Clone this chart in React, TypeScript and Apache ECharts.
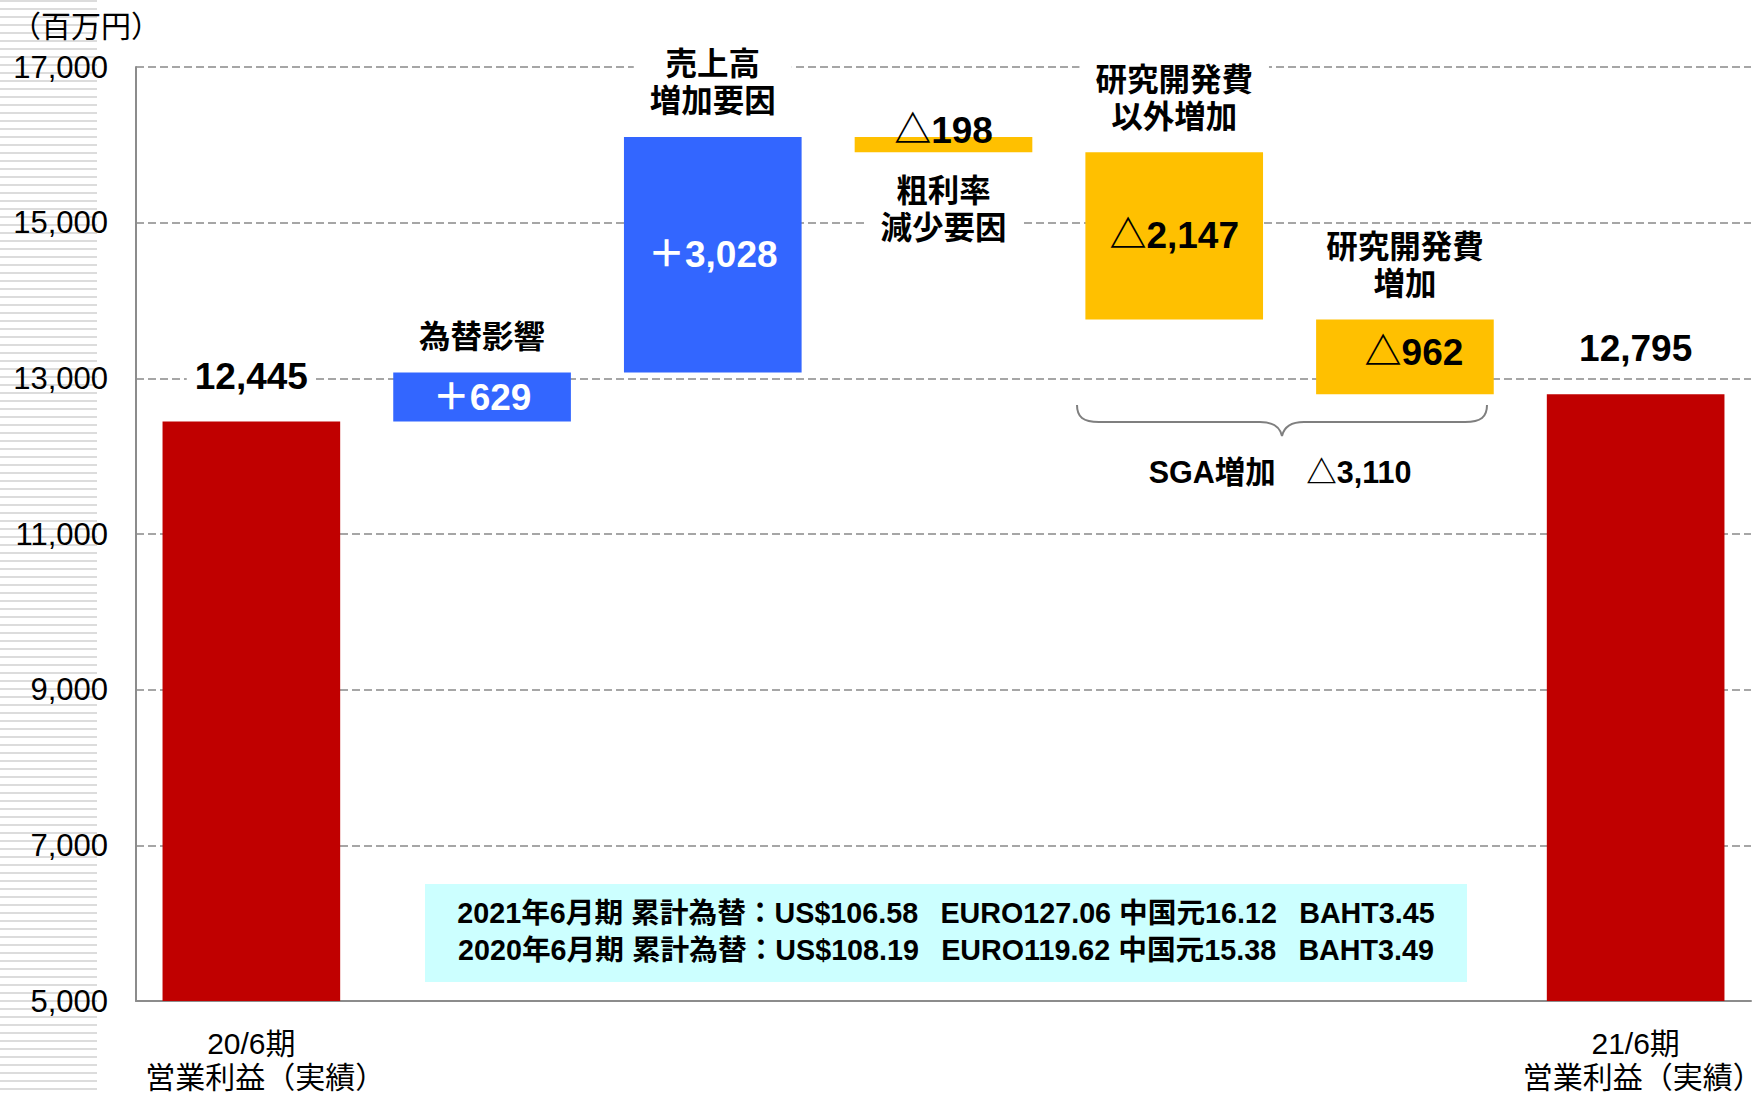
import React, { useEffect, useRef } from "react";
import * as echarts from "echarts";

// ---- data ----
const categories = [
  "20/6期 営業利益（実績）",
  "為替影響",
  "売上高増加要因",
  "粗利率減少要因",
  "研究開発費以外増加",
  "研究開発費増加",
  "21/6期 営業利益（実績）",
];
const axisLabelTop = ["20/6期", "", "", "", "", "", "21/6期"];
const axisLabelBottom = ["営業利益（実績）", "", "", "", "", "", "営業利益（実績）"];
const startValue = 12445;
const deltas = [629, 3028, -198, -2147, -962];
const endValue = 12795;
const notesAbove = ["", "為替影響", "売上高\n増加要因", "", "研究開発費\n以外増加", "研究開発費\n増加", ""];
const notesBelow = ["", "", "", "粗利率\n減少要因", "", "", ""];
const yMin = 5000;
const yMax = 17000;
const yInterval = 2000;
const sgaLabel = "SGA増加";
const sgaTotal = 3110;
const fxLines = [
  "2021年6月期 累計為替：US$106.58\u2002 EURO127.06 中国元16.12\u2002 BAHT3.45",
  "2020年6月期 累計為替：US$108.19\u2002 EURO119.62 中国元15.38\u2002 BAHT3.49",
];
const unitLabel = "（百万円）";

// ---- styles ----
const RED = "#C00000";
const BLUE = "#3366FF";
const YELLOW = "#FFC000";
const LATIN = '"Liberation Sans", Arial, "Noto Sans CJK JP", sans-serif';
const CJK = '"Noto Sans CJK JP", "Liberation Sans", sans-serif';

const fmt = (v: number) => Math.abs(v).toLocaleString("en-US");

export default function App() {
  const ref = useRef<HTMLDivElement>(null);

  useEffect(() => {
    if (!ref.current) return;
    const chart = echarts.init(ref.current, undefined, { renderer: "svg" });

    const bracePath =
      "M0,0 C0,12 6,17 22,17 L183,17 C197,17 203,22 205,31 C207,22 213,17 227,17 L388,17 C404,17 410,12 410,0";
    echarts.graphic.registerShape("brace", echarts.graphic.extendPath(bracePath, {}) as any);

    const levels: number[] = [startValue];
    deltas.forEach((d) => levels.push(levels[levels.length - 1] + d));
    const base = [0, ...deltas.map((d, i) => Math.min(levels[i], levels[i + 1])), 0];
    const visible = [startValue, ...deltas.map((d) => Math.abs(d)), endValue];
    const texts = [fmt(startValue), ...deltas.map((d) => (d > 0 ? "＋" : "△") + fmt(d)), fmt(endValue)];

    const valueFont = { fontFamily: LATIN, fontSize: 37, fontWeight: "bold" as const };

    const visibleData = visible.map((v, i) => {
      const isTotal = i === 0 || i === visible.length - 1;
      const d = isTotal ? 0 : deltas[i - 1];
      const color = isTotal ? RED : d > 0 ? BLUE : YELLOW;
      let label: any;
      if (isTotal) {
        label = {
          show: true,
          position: "top",
          distance: 25,
          color: "#000",
          backgroundColor: "#fff",
          padding: [2, 8],
          ...valueFont,
        };
      } else if (Math.abs(d) < 500) {
        label = { show: true, position: "top", distance: -12, color: "#000", ...valueFont };
      } else {
        label = {
          show: true,
          position: "inside",
          color: d > 0 ? "#fff" : "#000",
          offset: i === 5 ? [9, -4] : [0, 0],
          ...valueFont,
        };
      }
      return { value: v, itemStyle: { color }, label: { ...label, formatter: texts[i] } };
    });

    const noteFont = {
      fontFamily: CJK,
      fontSize: 31.5,
      lineHeight: 37,
      fontWeight: "bold" as const,
      color: "#000",
      backgroundColor: "#fff",
      padding: [0, 16],
    };

    const helperData = base.map((v, i) => ({
      value: v,
      label: notesBelow[i]
        ? { show: true, position: "insideTop", distance: 17, formatter: notesBelow[i], ...noteFont }
        : { show: false },
    }));

    const noteData = categories.map((c, i) => ({
      value: 0,
      label: notesAbove[i]
        ? { show: true, position: "top", distance: 20, formatter: notesAbove[i], ...noteFont }
        : { show: false },
    }));

    const lastIdx = categories.length - 1;

    const option: any = {
      animation: false,
      grid: {
        left: 136,
        right: 12,
        top: 67,
        bottom: 93,
        containLabel: false,
        outerBoundsMode: "none",
      },
      xAxis: {
        type: "category",
        data: categories,
        axisLine: { show: true, lineStyle: { color: "#8c8c8c", width: 2 } },
        axisTick: { show: false },
        axisLabel: {
          interval: 0,
          formatter: (_: string, idx: number) =>
            axisLabelTop[idx]
              ? `{a|${axisLabelTop[idx]}}\n{${idx === lastIdx ? "c" : "b"}|${axisLabelBottom[idx]}}`
              : "",
          fontFamily: LATIN,
          fontSize: 30,
          lineHeight: 34,
          margin: 25,
          color: "#000",
          rich: {
            a: { fontFamily: LATIN, fontSize: 30, lineHeight: 34, color: "#000" },
            b: { fontFamily: LATIN, fontSize: 30, lineHeight: 34, color: "#000", padding: [0, 0, 0, 28] },
            c: { fontFamily: LATIN, fontSize: 30, lineHeight: 34, color: "#000", padding: [0, 0, 0, 14] },
          },
        },
        splitLine: { show: false },
      },
      yAxis: {
        type: "value",
        min: yMin,
        max: yMax,
        interval: yInterval,
        axisLine: { show: true, lineStyle: { color: "#8c8c8c", width: 2 } },
        axisTick: { show: false },
        axisLabel: {
          fontFamily: LATIN,
          fontSize: 31,
          color: "#000",
          margin: 28,
          formatter: (v: number) => v.toLocaleString("en-US"),
        },
        splitLine: { show: true, lineStyle: { type: [8, 4], color: "#a6a6a6", width: 2 } },
      },
      series: [
        {
          name: "base",
          type: "bar",
          stack: "w",
          barWidth: "77%",
          silent: true,
          itemStyle: { color: "rgba(0,0,0,0)" },
          data: helperData,
        },
        {
          name: "value",
          type: "bar",
          stack: "w",
          barWidth: "77%",
          silent: true,
          data: visibleData,
        },
        {
          name: "note",
          type: "bar",
          stack: "w",
          barWidth: "77%",
          silent: true,
          itemStyle: { color: "rgba(0,0,0,0)" },
          data: noteData,
        },
      ],
      graphic: [
        {
          type: "text",
          left: 11,
          top: 9,
          style: { text: unitLabel, fontFamily: CJK, fontSize: 30, fill: "#000" },
        },
        {
          type: "rect",
          shape: { x: 425, y: 884, width: 1042, height: 98 },
          style: { fill: "#CCFFFF" },
        },
        ...fxLines.map((t, i) => ({
          type: "text",
          x: 946,
          y: 913 + i * 37,
          style: {
            text: t,
            fontFamily: LATIN,
            fontSize: 28.7,
            fontWeight: "bold",
            fill: "#000",
            align: "center",
            verticalAlign: "middle",
          },
        })),
        {
          type: "brace",
          x: 1077,
          y: 405,
          shape: {},
          style: { stroke: "#7f7f7f", fill: "none", lineWidth: 2 },
        },
        {
          type: "text",
          x: 1280,
          y: 472,
          style: {
            text: sgaLabel + "　△" + fmt(sgaTotal),
            fontFamily: LATIN,
            fontSize: 30.5,
            fontWeight: "bold",
            fill: "#000",
            align: "center",
            verticalAlign: "middle",
          },
        },
      ],
    };

    chart.setOption(option);
    return () => chart.dispose();
  }, []);

  return (
    <div style={{ position: "absolute", left: 0, top: 0, width: 1763, height: 1094, background: "#fff" }}>
      <div
        style={{
          position: "absolute",
          left: 0,
          top: 0,
          width: 97,
          height: 1094,
          background: "repeating-linear-gradient(180deg, #dcdcdc 0px, #dcdcdc 2px, #ffffff 2px, #ffffff 8px)",
        }}
      />
      <div ref={ref} style={{ position: "absolute", left: 0, top: 0, width: 1763, height: 1094 }} />
    </div>
  );
}
